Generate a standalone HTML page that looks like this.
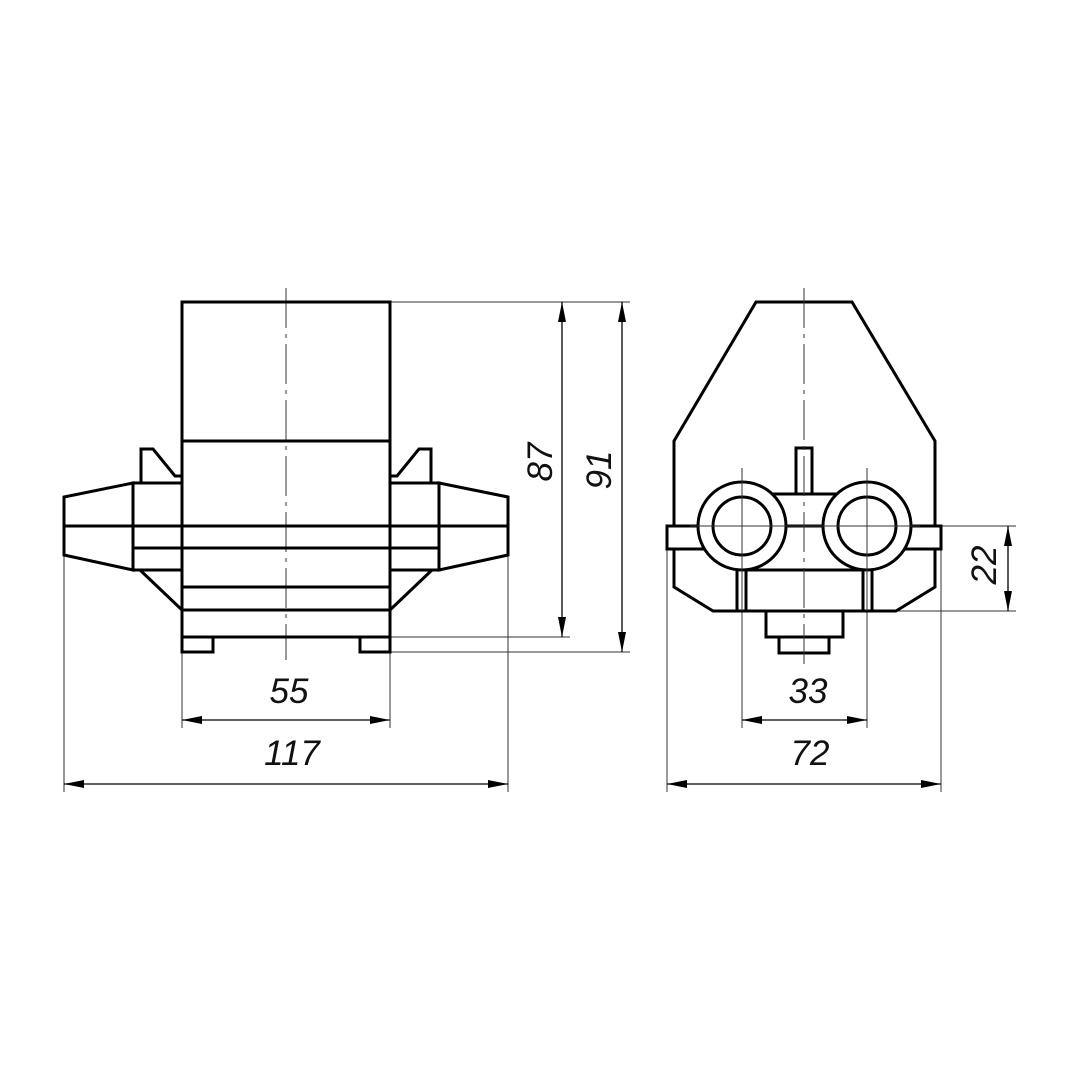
<!DOCTYPE html>
<html><head><style>html,body{margin:0;padding:0;background:#fff}svg{display:block}
text{font-family:"Liberation Sans",sans-serif;font-style:italic;font-size:35px;fill:#111}</style></head>
<body>
<svg width="1080" height="1080" viewBox="0 0 1080 1080" xmlns="http://www.w3.org/2000/svg">
<rect width="1080" height="1080" fill="#fff"/>
<defs>
<marker id="a" viewBox="0 0 20 8" refX="20" refY="4" markerWidth="20" markerHeight="8" markerUnits="userSpaceOnUse" orient="auto-start-reverse"><path d="M0,0L20,4L0,8z" fill="#000"/></marker>
</defs>
<g stroke="#333" stroke-width="1" fill="none">
<line x1="390" y1="302" x2="630" y2="302"/>
<line x1="390" y1="637" x2="570" y2="637"/>
<line x1="390" y1="652" x2="630" y2="652"/>
<line x1="182" y1="652" x2="182" y2="728"/>
<line x1="390" y1="652" x2="390" y2="728"/>
<line x1="64" y1="555" x2="64" y2="792"/>
<line x1="508" y1="555" x2="508" y2="792"/>
<line x1="667" y1="549" x2="667" y2="792"/>
<line x1="941" y1="549" x2="941" y2="792"/>
<line x1="742" y1="468" x2="742" y2="728"/>
<line x1="867" y1="468" x2="867" y2="728"/>
<line x1="941" y1="526" x2="1016" y2="526"/>
<line x1="896" y1="611" x2="1016" y2="611"/>
</g>
<g stroke="#000" stroke-width="1.3" fill="none">
<line x1="562" y1="302" x2="562" y2="637" marker-start="url(#a)" marker-end="url(#a)"/>
<line x1="622" y1="302" x2="622" y2="652" marker-start="url(#a)" marker-end="url(#a)"/>
<line x1="182" y1="720" x2="390" y2="720" marker-start="url(#a)" marker-end="url(#a)"/>
<line x1="64" y1="784" x2="508" y2="784" marker-start="url(#a)" marker-end="url(#a)"/>
<line x1="742" y1="720" x2="867" y2="720" marker-start="url(#a)" marker-end="url(#a)"/>
<line x1="667" y1="784" x2="941" y2="784" marker-start="url(#a)" marker-end="url(#a)"/>
<line x1="1008" y1="526" x2="1008" y2="611" marker-start="url(#a)" marker-end="url(#a)"/>
</g>
<g stroke="#333" stroke-width="1" stroke-dasharray="40,6,4,6" fill="none">
<line x1="286" y1="288" x2="286" y2="660"/>
</g>
<!-- left view -->
<g stroke="#000" stroke-width="3" fill="none" stroke-linejoin="miter">
<rect x="182" y="302" width="208" height="335"/>
<line x1="182" y1="441" x2="390" y2="441"/>
<line x1="182" y1="526" x2="390" y2="526"/>
<line x1="182" y1="548" x2="390" y2="548"/>
<line x1="182" y1="587" x2="390" y2="587"/>
<line x1="182" y1="610" x2="390" y2="610"/>
<rect x="182" y="637" width="31" height="15"/>
<rect x="360" y="637" width="30" height="15"/>
<g id="ear">
<polygon points="133,483 64,497 64,555 133,570"/>
<line x1="64" y1="526" x2="182" y2="526"/>
<rect x="133" y="483" width="49" height="87"/>
<line x1="133" y1="548" x2="182" y2="548"/>
<polyline points="141,483 141,449 153,449 175,476 182,476"/>
<line x1="140" y1="570" x2="182" y2="610"/>
</g>
<use href="#ear" transform="translate(572,0) scale(-1,1)"/>
</g>
<!-- right view -->
<g stroke="#000" stroke-width="3" fill="#fff" stroke-linejoin="miter">
<polyline fill="none" points="674,526 674,441 756,302 852,302 935,441 935,526"/>
<polyline fill="none" points="674,549 674,587 713,611 896,611 935,587 935,549"/>
<rect x="667" y="526" width="50" height="23"/>
<rect x="891" y="526" width="50" height="23"/>
<line x1="760" y1="526" x2="850" y2="526"/>
<rect x="796" y="448" width="16" height="46"/>
<line x1="760" y1="494" x2="850" y2="494"/>
<line x1="746" y1="570" x2="863" y2="570"/>
<line x1="737" y1="570" x2="737" y2="611"/>
<line x1="746" y1="570" x2="746" y2="611"/>
<line x1="863" y1="570" x2="863" y2="611"/>
<line x1="872" y1="570" x2="872" y2="611"/>
<circle cx="742" cy="526" r="44"/>
<circle cx="742" cy="526" r="29"/>
<circle cx="867" cy="526" r="44"/>
<circle cx="867" cy="526" r="29"/>
<rect x="766" y="611" width="77" height="26"/>
<rect x="779" y="637" width="50" height="16"/>
</g>
<g stroke="#333" stroke-width="1" stroke-dasharray="40,6,4,6">
<line x1="804" y1="288" x2="804" y2="668"/>
</g>
<g stroke="#333" stroke-width="1">
<line x1="742" y1="468" x2="742" y2="611"/><line x1="867" y1="468" x2="867" y2="611"/>
<line x1="690" y1="526" x2="920" y2="526"/>
</g>
<text x="289" y="703" text-anchor="middle">55</text>
<text x="292" y="765" text-anchor="middle">117</text>
<text x="808" y="703" text-anchor="middle">33</text>
<text x="810" y="765" text-anchor="middle">72</text>
<text transform="translate(552,462) rotate(-90)" text-anchor="middle">87</text>
<text transform="translate(611,470) rotate(-90)" text-anchor="middle">91</text>
<text transform="translate(996,565) rotate(-90)" text-anchor="middle">22</text>
</svg>
</body></html>
